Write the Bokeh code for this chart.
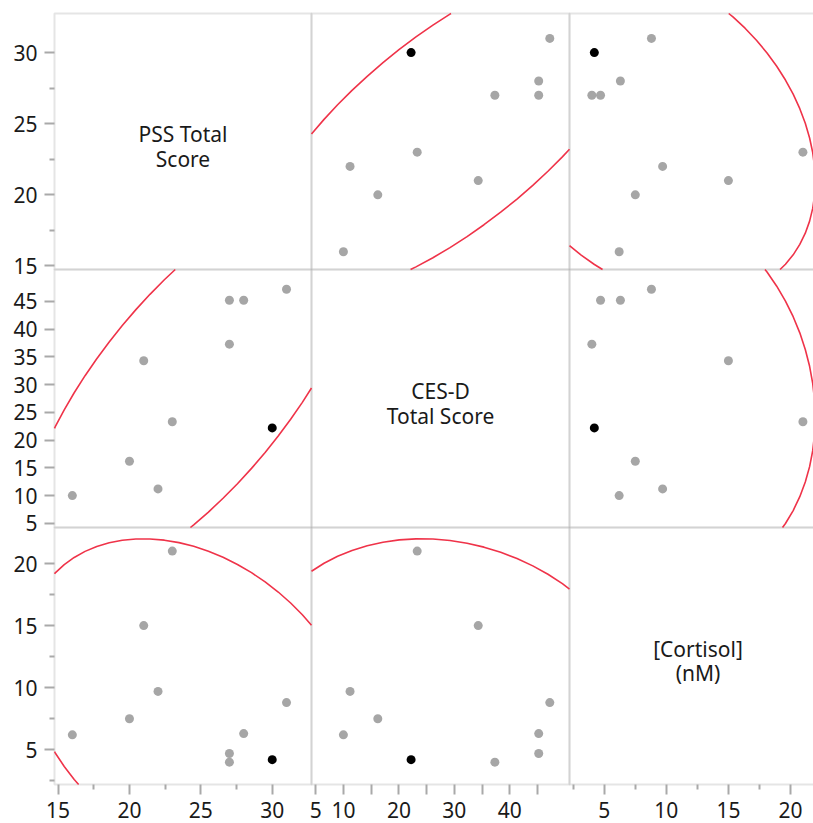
import numpy as np
from bokeh.plotting import figure
from bokeh.models import Range1d, FixedTicker, ColumnDataSource, LinearAxis, BoxAnnotation
from bokeh.core.properties import value
from bokeh.embed import file_html
from bokeh.resources import INLINE

# ---------------- data ----------------
pss = [30, 31, 27, 28, 27, 21, 23, 20, 22, 16]
cesd = [22.2, 47.2, 45.2, 45.2, 37.3, 34.3, 23.3, 16.2, 11.2, 10.0]
cortisol = [4.2, 8.8, 4.7, 6.3, 4.0, 15.0, 21.0, 7.5, 9.7, 6.2]
selected = [1, 0, 0, 0, 0, 0, 0, 0, 0, 0]

var_labels = ["PSS Total\nScore", "CES-D\nTotal Score", "[Cortisol]\n(nM)"]
var_ranges = [(14.75, 32.75), (4.25, 50.75), (2.2, 22.9)]
major_ticks = [[15, 20, 25, 30], [5, 10, 15, 20, 25, 30, 35, 40, 45], [5, 10, 15, 20]]
minor_ticks = [[17.5, 22.5, 27.5], [], [2.5, 7.5, 12.5, 17.5]]
x_label_hidden = [[], [15, 25, 35, 45], []]
ellipse_level = 0.95

# ---------------- layout / style ----------------
FONT = "Noto Sans"
TICK_FONT_SIZE = "21px"
LABEL_FONT_SIZE = "21px"
BORDER = "#a9a9a9"
POINT = "#a6a6a6"
RED = "#ef3349"
W, H = 813, 823
LEFT, TOP, BOTTOM = 54, 13, 39
col_w = [257, 258, 257]          # panel widths (last one is cut by the window)
row_h = [256, 258, 257]          # panel heights

data = [np.array(pss, float), np.array(cesd, float), np.array(cortisol, float)]
sel = np.array(selected, bool)
chi2 = -2.0 * np.log(1.0 - ellipse_level)

# ranges: each variable's scale placed on its own panel column / row
col_left = LEFT + np.concatenate([[0], np.cumsum(col_w)])[:3]
row_top = TOP + np.concatenate([[0], np.cumsum(row_h)])[:3]
xr, yr = {}, {}
for k in range(3):
    a, b = var_ranges[k]
    s = (b - a) / col_w[k]
    start = a - col_left[k] * s
    xr["c%d" % k] = Range1d(start, start + W * s)
    s = (b - a) / row_h[k]
    start = a - (H - row_top[k] - row_h[k]) * s
    yr["r%d" % k] = Range1d(start, start + H * s)

p = figure(width=W, height=H, output_backend="svg", toolbar_location=None,
           x_range=Range1d(xr["c0"].start, xr["c0"].end),
           y_range=Range1d(yr["r2"].start, yr["r2"].end),
           x_axis_location=None, y_axis_location=None,
           min_border_left=0, min_border_right=0,
           min_border_top=0, min_border_bottom=0)
p.extra_x_ranges = xr
p.extra_y_ranges = yr
p.grid.visible = False
p.outline_line_color = None
p.background_fill_color = "white"
p.border_fill_color = "white"


def style_axis(ax, k, hide=()):
    ax.ticker = FixedTicker(ticks=major_ticks[k], minor_ticks=minor_ticks[k])
    ax.axis_line_color = None
    ax.major_tick_line_color = BORDER
    ax.minor_tick_line_color = BORDER
    ax.major_tick_line_width = 2
    ax.minor_tick_line_width = 2
    ax.major_tick_in = 0
    ax.minor_tick_in = 0
    ax.major_tick_out = 10
    ax.minor_tick_out = 5
    ax.major_label_text_font = FONT
    ax.major_label_text_font_size = TICK_FONT_SIZE
    ax.major_label_text_color = "#1a1a1a"
    if hide:
        ax.major_label_overrides = {h: "" for h in hide}


# panel borders
for r in range(3):
    for c in range(3):
        p.add_layout(BoxAnnotation(left=var_ranges[c][0], right=var_ranges[c][1],
                                   bottom=var_ranges[r][0], top=var_ranges[r][1],
                                   x_range_name="c%d" % c, y_range_name="r%d" % r,
                                   fill_color=None, fill_alpha=0,
                                   line_color=BORDER, line_width=2, level="underlay"))

for k in range(3):
    ya = LinearAxis(y_range_name="r%d" % k, fixed_location=var_ranges[0][0])
    style_axis(ya, k)
    ya.major_label_standoff = 7
    p.add_layout(ya, "left")
    xa = LinearAxis(x_range_name="c%d" % k, fixed_location=var_ranges[2][0])
    style_axis(xa, k, x_label_hidden[k])
    xa.major_label_standoff = 7
    p.add_layout(xa, "below")


def ellipse(xs, ys, n=72):
    X = np.vstack([xs, ys])
    m = X.mean(axis=1)
    L = np.linalg.cholesky(np.cov(X))
    t = np.linspace(0, 2 * np.pi, n + 1)
    pts = m[:, None] + L @ (np.vstack([np.cos(t), np.sin(t)]) * np.sqrt(chi2))
    return pts[0], pts[1]


def clip_polyline(xs, ys, x0, x1, y0, y1):
    outx, outy = [], []
    joined = False
    for i in range(len(xs) - 1):
        px, py, qx, qy = xs[i], ys[i], xs[i + 1], ys[i + 1]
        dx, dy = qx - px, qy - py
        t0, t1, ok = 0.0, 1.0, True
        for pp, qq in ((-dx, px - x0), (dx, x1 - px), (-dy, py - y0), (dy, y1 - py)):
            if pp == 0:
                if qq < 0:
                    ok = False
                    break
            else:
                rr = qq / pp
                if pp < 0:
                    t0 = max(t0, rr)
                else:
                    t1 = min(t1, rr)
        if not ok or t0 > t1:
            joined = False
            continue
        if not joined or t0 > 0:
            if outx:
                outx.append(np.nan)
                outy.append(np.nan)
            outx.append(px + t0 * dx)
            outy.append(py + t0 * dy)
        outx.append(px + t1 * dx)
        outy.append(py + t1 * dy)
        joined = t1 >= 1.0
    return outx, outy


for r in range(3):
    for c in range(3):
        xn, yn = "c%d" % c, "r%d" % r
        if r == c:
            cx = sum(var_ranges[c]) / 2
            cy = sum(var_ranges[r]) / 2
            p.text(x=[cx], y=[cy], text=[var_labels[r]], text_align="center",
                   text_baseline="middle", text_font=value(FONT),
                   text_font_size=LABEL_FONT_SIZE, text_color="#1a1a1a",
                   text_line_height=0.88, y_offset=5, x_range_name=xn, y_range_name=yn)
            continue
        ex, ey = ellipse(data[c], data[r])
        cxs, cys = clip_polyline(ex, ey, var_ranges[c][0], var_ranges[c][1],
                                 var_ranges[r][0], var_ranges[r][1])
        p.line(cxs, cys, line_color=RED, line_width=1.6, x_range_name=xn, y_range_name=yn)
        gray = ColumnDataSource(dict(x=data[c][~sel], y=data[r][~sel]))
        black = ColumnDataSource(dict(x=data[c][sel], y=data[r][sel]))
        p.scatter("x", "y", source=gray, size=9, fill_color=POINT, line_color=None,
                  x_range_name=xn, y_range_name=yn)
        p.scatter("x", "y", source=black, size=9, fill_color="black", line_color=None,
                  x_range_name=xn, y_range_name=yn)

open("out.html", "w").write(file_html(p, INLINE))
